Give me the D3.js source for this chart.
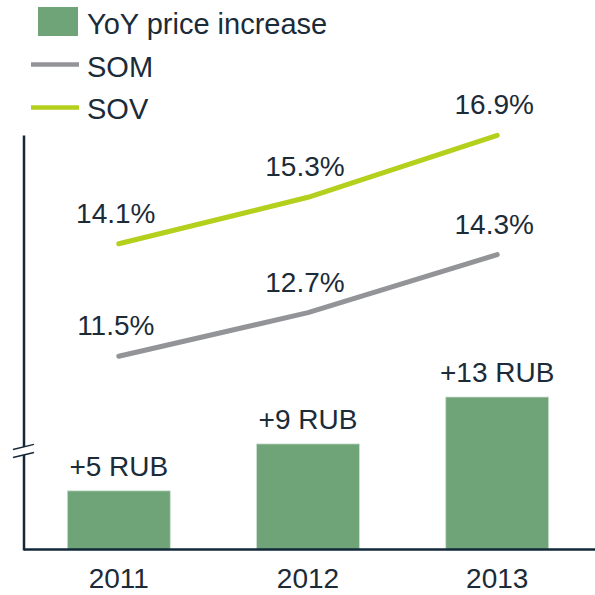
<!DOCTYPE html>
<html><head><meta charset="utf-8">
<script src="https://cdn.jsdelivr.net/npm/d3@7"></script>
<style>html,body{margin:0;padding:0;background:#fff;}svg{display:block;}</style>
</head><body>
<svg id="c" width="595" height="595"></svg>
<script>
const years = ["2011", "2012", "2013"];
const priceIncrease = [5, 9, 13];
const priceLabels = ["+5 RUB", "+9 RUB", "+13 RUB"];
const som = [11.5, 12.7, 14.3];
const sov = [14.1, 15.3, 16.9];
const legendLabels = ["YoY price increase", "SOM", "SOV"];

const textColor = "#1b2b38", axisColor = "#12283a";
const barColor = "#6ea477", somColor = "#939498", sovColor = "#b4cf1c";
const font = "'Liberation Sans', Arial, sans-serif";

const svg = d3.select("#c");

const x = d3.scaleBand().domain(years).range([24, 592]).paddingInner(0.456).paddingOuter(0.229);
const yBar = d3.scaleLinear().domain([0, 13]).range([549.5, 397]);
const ySom = d3.scaleLinear().domain([11.5, 14.3]).range([356.2, 254.6]);
const ySov = d3.scaleLinear().domain([14.1, 16.9]).range([243.8, 135.3]);
const cx = d => x(d) + x.bandwidth() / 2;

// bars
svg.selectAll("rect.bar").data(priceIncrease).join("rect")
  .attr("class", "bar")
  .attr("x", (d, i) => x(years[i]))
  .attr("y", d => yBar(d))
  .attr("width", x.bandwidth())
  .attr("height", d => yBar(0) - yBar(d))
  .attr("fill", barColor)
  .attr("stroke", "#cfe0d2").attr("stroke-width", 0.8);

svg.selectAll("text.blab").data(priceLabels).join("text")
  .attr("class", "blab")
  .attr("x", (d, i) => cx(years[i]))
  .attr("y", (d, i) => yBar(priceIncrease[i]) - 15)
  .attr("text-anchor", "middle")
  .attr("font-family", font).attr("font-size", 28).attr("fill", textColor)
  .text(d => d);

// axes
const xAxis = d3.axisBottom(x).tickSize(0).tickPadding(19);
const gx = svg.append("g").attr("transform", "translate(0,549.5)").call(xAxis);
gx.select(".domain").attr("d", "M24,0H595").attr("stroke", axisColor).attr("stroke-width", 2.5);
gx.selectAll("text").attr("font-family", font).attr("font-size", 28).attr("fill", textColor).attr("dy", "0.71em");

svg.append("line").attr("x1", 24).attr("x2", 24).attr("y1", 135.5).attr("y2", 550.5)
  .attr("stroke", axisColor).attr("stroke-width", 2.5);

// axis break
svg.append("path").attr("d", "M12,450L36,444L36,452L12,458Z").attr("fill", "#fff");
svg.append("line").attr("x1", 13).attr("y1", 449.5).attr("x2", 34).attr("y2", 444.3)
  .attr("stroke", axisColor).attr("stroke-width", 1.3);
svg.append("line").attr("x1", 13).attr("y1", 457.5).attr("x2", 34).attr("y2", 452.5)
  .attr("stroke", axisColor).attr("stroke-width", 1.3);

// lines
function drawSeries(vals, yS, color) {
  const line = d3.line().x((d, i) => cx(years[i])).y(d => yS(d));
  svg.append("path").datum(vals).attr("d", line)
    .attr("fill", "none").attr("stroke", color).attr("stroke-width", 5)
    .attr("stroke-linecap", "round").attr("stroke-linejoin", "round");
  svg.append("g").selectAll("text").data(vals).join("text")
    .attr("x", (d, i) => cx(years[i]) - 3)
    .attr("y", d => yS(d) - 21)
    .attr("text-anchor", "middle")
    .attr("font-family", font).attr("font-size", 28).attr("fill", textColor)
    .text(d => d.toFixed(1) + "%");
}
drawSeries(som, ySom, somColor);
drawSeries(sov, ySov, sovColor);

// legend
const lg = svg.append("g");
lg.append("rect").attr("x", 38).attr("y", 7).attr("width", 40).attr("height", 29).attr("fill", barColor);
lg.append("line").attr("x1", 31).attr("x2", 79).attr("y1", 64.5).attr("y2", 64.5).attr("stroke", somColor).attr("stroke-width", 4.5);
lg.append("line").attr("x1", 31).attr("x2", 79).attr("y1", 107.5).attr("y2", 107.5).attr("stroke", sovColor).attr("stroke-width", 4.5);
lg.selectAll("text").data(legendLabels).join("text")
  .attr("x", 87).attr("y", (d, i) => 34 + i * 42.5)
  .attr("font-family", font).attr("font-size", 29).attr("fill", textColor)
  .text(d => d);
</script>
</body></html>
